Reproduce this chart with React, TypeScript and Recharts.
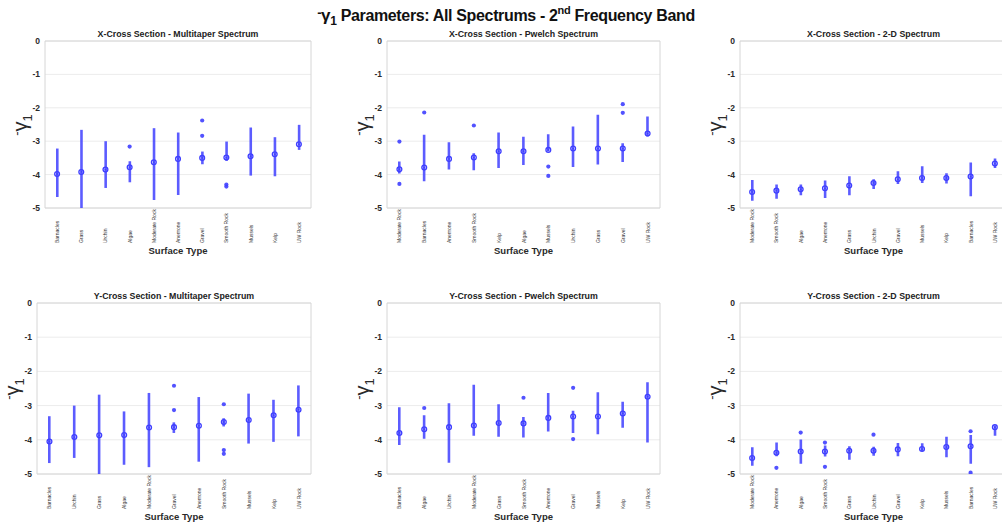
import React from 'react';
import { ComposedChart, Bar, Line, XAxis, YAxis, CartesianGrid, ReferenceArea } from 'recharts';

const FONT = '"Liberation Sans", Arial, Helvetica, sans-serif';
const BLUE = '#3f3fff';

const Y_TICKS = [0, -1, -2, -3, -4, -5];

// X-Cross Section - Multitaper Spectrum
const xMultiCats = ['Barnacles', 'Grass', 'Urchin', 'Algae', 'Moderate Rock', 'Anemone', 'Gravel', 'Smooth Rock', 'Mussels', 'Kelp', 'UW Rock'];
const xMultiLow = [-4.67, -5.0, -4.4, -4.23, -4.76, -4.61, -3.69, -3.59, -4.03, -4.05, -3.26];
const xMultiHigh = [-3.22, -2.66, -3.0, -3.6, -2.61, -2.74, -3.31, -3.01, -2.59, -2.88, -2.51];
const xMultiMed = [-3.98, -3.92, -3.85, -3.78, -3.63, -3.53, -3.5, -3.49, -3.45, -3.39, -3.09];
const xMultiOut = [[], [], [], [-3.16], [], [], [-2.38, -2.84], [-4.3, -4.36], [], [], []];

// X-Cross Section - Pwelch Spectrum
const xPwelchCats = ['Moderate Rock', 'Barnacles', 'Anemone', 'Smooth Rock', 'Kelp', 'Algae', 'Mussels', 'Urchin', 'Grass', 'Gravel', 'UW Rock'];
const xPwelchLow = [-3.97, -4.2, -3.85, -3.87, -3.8, -3.71, -3.31, -3.77, -3.7, -3.62, -2.86];
const xPwelchHigh = [-3.61, -2.81, -3.03, -3.36, -2.74, -2.87, -2.79, -2.56, -2.21, -3.06, -2.26];
const xPwelchMed = [-3.84, -3.79, -3.53, -3.49, -3.3, -3.3, -3.26, -3.22, -3.22, -3.22, -2.77];
const xPwelchOut = [[-3.01, -4.28], [-2.14], [], [-2.53], [], [], [-3.76, -4.04], [], [], [-1.89, -2.15], []];

// X-Cross Section - 2-D Spectrum
const x2dCats = ['Moderate Rock', 'Smooth Rock', 'Algae', 'Anemone', 'Grass', 'Urchin', 'Gravel', 'Mussels', 'Kelp', 'Barnacles', 'UW Rock'];
const x2dLow = [-4.78, -4.72, -4.62, -4.7, -4.62, -4.43, -4.28, -4.25, -4.27, -4.65, -3.8];
const x2dHigh = [-4.16, -4.3, -4.3, -4.18, -4.05, -4.14, -3.9, -3.75, -3.96, -3.64, -3.52];
const x2dMed = [-4.52, -4.48, -4.44, -4.41, -4.33, -4.25, -4.14, -4.1, -4.1, -4.06, -3.67];
const x2dOut = [[], [], [], [], [], [], [], [], [], [], []];

// Y-Cross Section - Multitaper Spectrum
const yMultiCats = ['Barnacles', 'Urchin', 'Grass', 'Algae', 'Moderate Rock', 'Gravel', 'Anemone', 'Smooth Rock', 'Mussels', 'Kelp', 'UW Rock'];
const yMultiLow = [-4.68, -4.53, -5.0, -4.73, -4.8, -3.8, -4.64, -3.61, -4.11, -4.06, -3.9];
const yMultiHigh = [-3.31, -3.0, -2.68, -3.17, -2.63, -3.49, -2.75, -3.37, -2.65, -2.83, -2.41];
const yMultiMed = [-4.05, -3.92, -3.87, -3.86, -3.64, -3.63, -3.59, -3.48, -3.42, -3.28, -3.12];
const yMultiOut = [[], [], [], [], [], [-2.42, -3.13], [], [-2.96, -4.3, -4.41], [], [], []];

// Y-Cross Section - Pwelch Spectrum
const yPwelchCats = ['Barnacles', 'Algae', 'Urchin', 'Moderate Rock', 'Grass', 'Smooth Rock', 'Anemone', 'Gravel', 'Mussels', 'Kelp', 'UW Rock'];
const yPwelchLow = [-4.15, -3.97, -4.67, -3.88, -3.91, -3.93, -3.76, -3.8, -3.84, -3.65, -4.08];
const yPwelchHigh = [-3.05, -3.28, -2.93, -2.39, -2.96, -3.33, -2.63, -3.15, -2.61, -2.89, -2.32];
const yPwelchMed = [-3.8, -3.69, -3.63, -3.58, -3.51, -3.52, -3.36, -3.32, -3.32, -3.23, -2.74];
const yPwelchOut = [[], [-3.07], [], [], [], [-2.77], [], [-2.48, -3.98], [], [], []];

// Y-Cross Section - 2-D Spectrum
const y2dCats = ['Moderate Rock', 'Anemone', 'Algae', 'Smooth Rock', 'Grass', 'Urchin', 'Gravel', 'Kelp', 'Mussels', 'Barnacles', 'UW Rock'];
const y2dLow = [-4.76, -4.48, -4.7, -4.49, -4.58, -4.47, -4.48, -4.33, -4.51, -4.7, -3.88];
const y2dHigh = [-4.22, -4.08, -3.99, -4.17, -4.19, -4.2, -4.09, -4.1, -3.91, -3.86, -3.58];
const y2dMed = [-4.53, -4.38, -4.34, -4.34, -4.32, -4.32, -4.28, -4.27, -4.21, -4.19, -3.63];
const y2dOut = [[], [-4.82], [-3.79], [-4.08, -4.79], [], [-3.85], [], [], [], [-3.75, -4.96], []];

const ML = 60;
const MT = 20;
const XH = 55;

function buildRows(cats: string[], lo: number[], hi: number[], med: number[], out: number[][]) {
  return cats.map((c, i) => ({
    cat: c,
    range: [lo[i], hi[i]],
    med: med[i],
    o1: out[i][0] ?? null,
    o2: out[i][1] ?? null,
    o3: out[i][2] ?? null,
  }));
}

const outDot = (p: any) => {
  if (p.value == null || p.cy == null || isNaN(p.cy)) return <g key={`e-${p.index}`} />;
  return <circle key={`o-${p.index}`} cx={p.cx} cy={p.cy} r={2.1} fill={BLUE} fillOpacity={0.9} />;
};

const medDot = (p: any) => {
  if (p.value == null || p.cy == null) return <g key={`e-${p.index}`} />;
  return (
    <g key={`m-${p.index}`}>
      <circle cx={p.cx} cy={p.cy} r={2.4} fill="none" stroke={BLUE} strokeWidth={1.3} />
      <circle cx={p.cx} cy={p.cy} r={0.9} fill={BLUE} />
    </g>
  );
};

const xTick = (p: any) => {
  const y = p.y + 35;
  return (
    <text
      x={p.x}
      y={y}
      transform={`rotate(-90 ${p.x} ${y})`}
      textAnchor="start"
      dominantBaseline="central"
      fontSize={5}
      fill="#333"
      fontFamily={FONT}
    >
      {p.payload.value}
    </text>
  );
};

interface PanelProps {
  title: string;
  cats: string[];
  lo: number[];
  hi: number[];
  med: number[];
  out: number[][];
  left: number;
  top: number;
  w: number;
  h: number;
}

const Panel: React.FC<PanelProps> = ({ title, cats, lo, hi, med, out, left, top, w, h }) => {
  const rows = buildRows(cats, lo, hi, med, out);
  const cw = ML + w + 4;
  const ch = MT + h + XH;
  const lx = ML - 23;
  const ly = MT + h / 2;
  return (
    <div style={{ position: 'absolute', left: left - ML, top: top - MT, width: cw, height: ch }}>
      <ComposedChart width={cw} height={ch} data={rows} margin={{ top: MT, right: 4, left: 0, bottom: 0 }}>
        <CartesianGrid horizontal vertical={false} stroke="#ececec" />
        <XAxis
          dataKey="cat"
          interval={0}
          tick={xTick}
          tickLine={false}
          tickSize={0}
          tickMargin={0}
          axisLine={false}
          height={XH}
        />
        <YAxis
          type="number"
          domain={[-5, 0]}
          ticks={Y_TICKS}
          interval={0}
          allowDataOverflow
          width={ML}
          tickLine={false}
          tickSize={0}
          tickMargin={5}
          axisLine={false}
          tick={{ fontSize: 8.5, fontWeight: 'bold', fill: '#2a2a2a', fontFamily: FONT }}
        />
        <ReferenceArea y1={-5} y2={0} fill="none" stroke="#d6d6d6" ifOverflow="visible" />
        <Bar dataKey="range" barSize={2.6} fill={BLUE} fillOpacity={0.85} isAnimationActive={false} />
        <Line dataKey="med" stroke="none" dot={medDot} activeDot={false} isAnimationActive={false} />
        <Line dataKey="o1" stroke="none" dot={outDot} activeDot={false} isAnimationActive={false} />
        <Line dataKey="o2" stroke="none" dot={outDot} activeDot={false} isAnimationActive={false} />
        <Line dataKey="o3" stroke="none" dot={outDot} activeDot={false} isAnimationActive={false} />
      </ComposedChart>
      <svg width={cw} height={ch} style={{ position: 'absolute', left: 0, top: 0, pointerEvents: 'none' }}>
        <text x={ML + w / 2} y={MT - 4} textAnchor="middle" fontSize={8.8} fontWeight="bold" fill="#222" fontFamily={FONT}>
          {title}
        </text>
        <text x={ML + w / 2} y={MT + h + 45.5} textAnchor="middle" fontSize={9.5} fontWeight="bold" fill="#2a2a2a" fontFamily={FONT}>
          Surface Type
        </text>
      </svg>
      <div
        style={{
          position: 'absolute',
          left: lx,
          top: ly,
          transform: 'translate(-50%, -50%) rotate(-90deg)',
          whiteSpace: 'nowrap',
          fontFamily: FONT,
          fontSize: 20,
          lineHeight: '20px',
          color: '#2a2a2a',
          pointerEvents: 'none',
        }}
      >
        <span style={{ fontSize: 13, verticalAlign: 6 }}>-</span>
        <span>γ</span>
        <span style={{ fontSize: 13, verticalAlign: -5 }}>1</span>
      </div>
    </div>
  );
};

export default function App() {
  return (
    <div style={{ position: 'absolute', left: 0, top: 0, width: 1002, height: 527, overflow: 'hidden', background: '#fff' }}>
      <svg width={1002} height={30} style={{ position: 'absolute', left: 0, top: 0 }}>
        <text x={506} y={21} textAnchor="middle" fontSize={16} letterSpacing={-0.35} fontWeight="bold" fill="#111" fontFamily={FONT}>
          <tspan fontSize={13} dy={-4}>-</tspan>
          <tspan fontSize={17} dy={4}>γ</tspan>
          <tspan fontSize={12} dy={4}>1</tspan>
          <tspan dy={-4}> Parameters: All Spectrums - 2</tspan>
          <tspan fontSize={11} dy={-7}>nd</tspan>
          <tspan dy={7}> Frequency Band</tspan>
        </text>
      </svg>
      <Panel title="X-Cross Section - Multitaper Spectrum" cats={xMultiCats} lo={xMultiLow} hi={xMultiHigh} med={xMultiMed} out={xMultiOut} left={45} top={41} w={266} h={167} />
      <Panel title="X-Cross Section - Pwelch Spectrum" cats={xPwelchCats} lo={xPwelchLow} hi={xPwelchHigh} med={xPwelchMed} out={xPwelchOut} left={387} top={41} w={273} h={167} />
      <Panel title="X-Cross Section - 2-D Spectrum" cats={x2dCats} lo={x2dLow} hi={x2dHigh} med={x2dMed} out={x2dOut} left={740} top={41} w={267} h={167} />
      <Panel title="Y-Cross Section - Multitaper Spectrum" cats={yMultiCats} lo={yMultiLow} hi={yMultiHigh} med={yMultiMed} out={yMultiOut} left={37} top={303} w={274} h={171} />
      <Panel title="Y-Cross Section - Pwelch Spectrum" cats={yPwelchCats} lo={yPwelchLow} hi={yPwelchHigh} med={yPwelchMed} out={yPwelchOut} left={387} top={303} w={273} h={171} />
      <Panel title="Y-Cross Section - 2-D Spectrum" cats={y2dCats} lo={y2dLow} hi={y2dHigh} med={y2dMed} out={y2dOut} left={740} top={303} w={267} h={171} />
    </div>
  );
}
